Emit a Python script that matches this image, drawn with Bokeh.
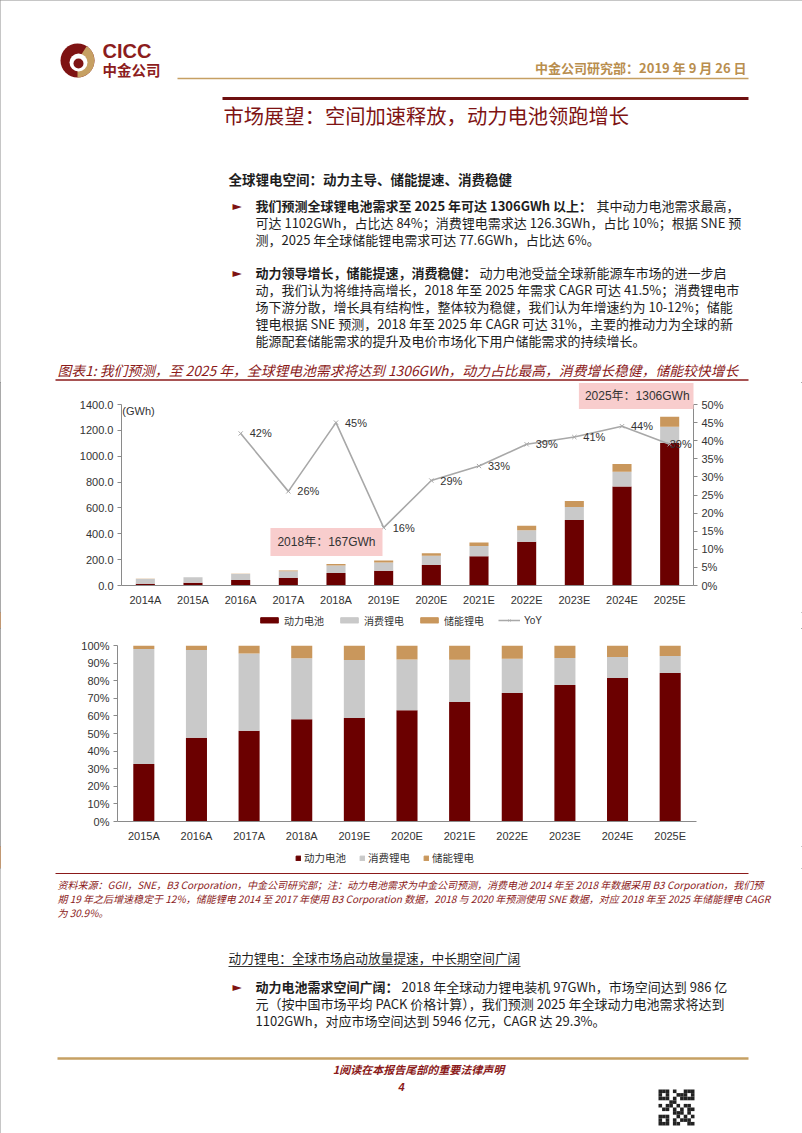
from bokeh.plotting import figure
from bokeh.models import (Range1d, FactorRange, LinearAxis, Legend, LegendItem, Label,
                          SingleIntervalTicker, NumeralTickFormatter, PrintfTickFormatter,
                          ColumnDataSource)
from bokeh.layouts import column
from bokeh.core.properties import value
from bokeh.embed import file_html
from bokeh.resources import INLINE

# ---------------- data ----------------
years = ["2014A", "2015A", "2016A", "2017A", "2018A", "2019E", "2020E",
         "2021E", "2022E", "2023E", "2024E", "2025E"]
power = [13, 21, 43.5, 59.4, 97, 114, 158, 226, 338, 506, 766, 1102]          # 动力电池 GWh
consumer = [38, 42.1, 45.7, 50.7, 58, 64, 72, 80, 90, 101, 113, 126.3]          # 消费锂电 GWh
storage = [0.8, 1.3, 2.3, 5.2, 12, 16, 20, 27, 35, 46, 61, 77.6]                # 储能锂电 GWh
yoy_years = ["2016A", "2017A", "2018A", "2019E", "2020E", "2021E", "2022E",
             "2023E", "2024E", "2025E"]
yoy = [42, 26, 45, 16, 29, 33, 39, 41, 44, 39]                                   # YoY %
share_years = years[1:]
series_names = ["动力电池", "消费锂电", "储能锂电"]

# ---------------- styles ----------------
CJK = "Noto Sans CJK SC"
LAT = "Liberation Sans"
MIX = "Liberation Sans, Noto Sans CJK SC"
C_POWER = "#6B0000"
C_CONS = "#C9C9C9"
C_STOR = "#C9975C"
C_YOY = "#A8A8A8"
DARKRED = "#7E1313"
GOLD = "#C6A063"
TXT = "#1E1E1E"
W = 802
BODY = 13


def page_fig(h, y0, y1):
    p = figure(width=W, height=h, x_range=Range1d(0, W), y_range=Range1d(y1, y0),
               output_backend="svg", toolbar_location=None, min_border=0,
               x_axis_location=None, y_axis_location=None, frame_align=False)
    p.grid.visible = False
    p.outline_line_color = None
    return p


def txt(p, x, y, s, size=BODY, color=TXT, font=CJK, style="normal", align="left",
        baseline="middle"):
    p.text(x=[x], y=[y], text=[s], text_font=value(font), text_font_size=f"{size}px",
           text_color=color, text_font_style=style, text_align=align,
           text_baseline=baseline)


def hline(p, x0, x1, y, color, width):
    p.line(x=[x0, x1], y=[y, y], line_color=color, line_width=width)


def style_axis(ax):
    ax.axis_line_color = "#8A8A8A"
    ax.major_tick_line_color = "#8A8A8A"
    ax.minor_tick_line_color = None
    ax.major_tick_out = 4
    ax.major_tick_in = 0
    ax.major_label_text_font = LAT
    ax.major_label_text_font_size = "11px"
    ax.major_label_text_color = "#333333"
    ax.major_label_standoff = 4


def style_xaxis(ax):
    style_axis(ax)
    ax.major_tick_line_color = None
    ax.major_tick_out = 0
    ax.major_label_standoff = 8


# ---------------- header (page y 0..382) ----------------
hd = page_fig(382, 0, 382)
hd.circle(x=[77], y=[60], radius=17, fill_color=DARKRED, line_color=None)
hd.wedge(x=[77], y=[60], radius=17, start_angle=-1.57, end_angle=1.0,
         fill_color=GOLD, line_color=None)
hd.circle(x=[78], y=[62], radius=9, fill_color="white", line_color=None)
hd.circle(x=[78], y=[63], radius=5, fill_color=DARKRED, line_color=None)
txt(hd, 102, 50, "CICC", size=20, color="#8C1D1D", font=LAT, style="bold")
txt(hd, 102, 69, "中金公司", size=14.5, color="#8C1D1D", style="bold")
txt(hd, 746, 67, "中金公司研究部：2019 年 9 月 26 日", size=13, color="#B98E4E",
    style="bold", align="right")
hline(hd, 177, 748, 78, GOLD, 1.5)
hline(hd, 222, 748, 98, "#6E1010", 3)
txt(hd, 223, 114, "市场展望：空间加速释放，动力电池领跑增长", size=20.3, color=DARKRED)

txt(hd, 228, 178, "全球锂电空间：动力主导、储能提速、消费稳健", size=13.5, style="bold")

txt(hd, 232, 205, "►", size=12, color=DARKRED, font="DejaVu Sans")
txt(hd, 255, 205, "我们预测全球锂电池需求至 2025 年可达 1306GWh 以上：", style="bold")
txt(hd, 596, 205, "其中动力电池需求最高，")
txt(hd, 255, 222, "可达 1102GWh，占比达 84%；消费锂电需求达 126.3GWh，占比 10%；根据 SNE 预")
txt(hd, 255, 239, "测，2025 年全球储能锂电需求可达 77.6GWh，占比达 6%。")

txt(hd, 232, 272, "►", size=12, color=DARKRED, font="DejaVu Sans")
txt(hd, 255, 272, "动力领导增长，储能提速，消费稳健：", style="bold")
txt(hd, 479, 272, "动力电池受益全球新能源车市场的进一步启")
txt(hd, 255, 289, "动，我们认为将维持高增长，2018 年至 2025 年需求 CAGR 可达 41.5%；消费锂电市")
txt(hd, 255, 306, "场下游分散，增长具有结构性，整体较为稳健，我们认为年增速约为 10-12%；储能")
txt(hd, 255, 323, "锂电根据 SNE 预测，2018 年至 2025 年 CAGR 可达 31%，主要的推动力为全球的新")
txt(hd, 255, 340, "能源配套储能需求的提升及电价市场化下用户储能需求的持续增长。")

txt(hd, 57, 369, "图表1: 我们预测，至 2025 年，全球锂电池需求将达到 1306GWh，动力占比最高，消费增长稳健，储能较快增长",
    size=13.8, color="#8B1A1A", style="italic")
hline(hd, 55, 748, 379.5, "#8B1A1A", 1.5)

# ---------------- chart 1 (page y 382..612) ----------------
# frame spans page y 382..585; axes drawn only over 0..1400 (page y 404..585)
Y_MAX, YOY_MAX = 1400, 50
ext = (585 - 382) / (585 - 404)
c1 = figure(width=W, height=230, x_range=FactorRange(*years),
            y_range=Range1d(0, Y_MAX * ext),
            output_backend="svg", toolbar_location=None, frame_align=False,
            min_border_left=121, min_border_right=109, min_border_top=0, min_border_bottom=27)
c1.grid.visible = False
c1.outline_line_color = None
c1.extra_y_ranges = {"yoy": Range1d(0, YOY_MAX * ext)}

src1 = ColumnDataSource(dict(year=years, power=power, consumer=consumer, storage=storage))
bars1 = c1.vbar_stack(["power", "consumer", "storage"], x="year", width=0.4, source=src1,
                      color=[C_POWER, C_CONS, C_STOR], line_color=None)
ln = c1.line(x=yoy_years, y=yoy, y_range_name="yoy", line_color=C_YOY, line_width=1.6)
mk = c1.scatter(x=yoy_years, y=yoy, y_range_name="yoy", marker="x", size=6,
                line_color=C_YOY, line_width=1)
yoy_txt = [f"{v}%" for v in yoy]
c1.text(x=yoy_years[:-1], y=yoy[:-1], text=yoy_txt[:-1], y_range_name="yoy", x_offset=9,
        text_font=value(LAT), text_font_size="11px", text_color="#333333",
        text_baseline="middle")
c1.text(x=yoy_years[-1:], y=yoy[-1:], text=yoy_txt[-1:], y_range_name="yoy", x_offset=0,
        text_font=value(LAT), text_font_size="11px", text_color="#333333",
        text_baseline="middle")
c1.text(x=[years[0]], y=[Y_MAX], text=["(GWh)"], x_offset=-23, text_font=value(LAT),
        text_font_size="11px", text_color="#333333", text_baseline="top")

c1.add_layout(Label(x=4.30, y=336, text="2018年：167GWh", text_align="center",
                    text_baseline="middle", text_font=MIX, text_font_size="12px",
                    text_color="#333333", background_fill_color="#F8CDCD", padding=7))
c1.add_layout(Label(x=10.82, y=1466, text="2025年：1306GWh", text_align="center",
                    text_baseline="middle", text_font=MIX, text_font_size="12px",
                    text_color="#333333", background_fill_color="#F8CDCD", padding=6))

c1.yaxis.ticker = SingleIntervalTicker(interval=200)
c1.yaxis.formatter = NumeralTickFormatter(format="0.0")
c1.yaxis.bounds = (0, Y_MAX)
rax = LinearAxis(y_range_name="yoy", ticker=SingleIntervalTicker(interval=5),
                 formatter=PrintfTickFormatter(format="%d%%"), bounds=(0, YOY_MAX))
c1.add_layout(rax, "right")
for ax in [c1.yaxis[0], rax]:
    style_axis(ax)
style_xaxis(c1.xaxis[0])

# legend strip for chart 1 (page y 612..628); swatches come from off-screen samples
OFF = [-100]
lg1 = page_fig(16, 0, 1)
d_pow = lg1.vbar(x=OFF, top=[1], width=1, color=C_POWER)
d_con = lg1.vbar(x=OFF, top=[1], width=1, color=C_CONS)
d_sto = lg1.vbar(x=OFF, top=[1], width=1, color=C_STOR)
d_ln = lg1.line(x=OFF * 2, y=[0.5, 0.5], line_color=C_YOY, line_width=1.6)
d_mk = lg1.scatter(x=OFF, y=[0.5], marker="x", size=6, line_color=C_YOY)
lg1.add_layout(Legend(items=[LegendItem(label=series_names[0], renderers=[d_pow]),
                             LegendItem(label=series_names[1], renderers=[d_con]),
                             LegendItem(label=series_names[2], renderers=[d_sto]),
                             LegendItem(label="YoY", renderers=[d_ln, d_mk])],
                      orientation="horizontal", location="center", glyph_width=22,
                      glyph_height=7, label_height=12, label_standoff=4, spacing=14,
                      padding=2, margin=0, label_text_font=MIX,
                      label_text_font_size="10px", label_text_color="#333333",
                      border_line_color=None, background_fill_alpha=0))

# ---------------- chart 2 (page y 628..846) ----------------
tot = [p_ + c_ + s_ for p_, c_, s_ in zip(power, consumer, storage)]
sh_power = [100 * a / t for a, t in zip(power[1:], tot[1:])]
sh_cons = [100 * a / t for a, t in zip(consumer[1:], tot[1:])]
sh_stor = [100 * a / t for a, t in zip(storage[1:], tot[1:])]

c2 = figure(width=W, height=218, x_range=FactorRange(*share_years), y_range=Range1d(0, 100),
            output_backend="svg", toolbar_location=None, frame_align=False,
            min_border_left=117, min_border_right=106, min_border_top=17, min_border_bottom=25)
c2.grid.visible = False
c2.outline_line_color = None
src2 = ColumnDataSource(dict(year=share_years, power=sh_power, consumer=sh_cons, storage=sh_stor))
bars2 = c2.vbar_stack(["power", "consumer", "storage"], x="year", width=0.4, source=src2,
                      color=[C_POWER, C_CONS, C_STOR], line_color=None)
c2.yaxis.ticker = SingleIntervalTicker(interval=10)
c2.yaxis.formatter = PrintfTickFormatter(format="%d%%")
style_axis(c2.yaxis[0])
style_xaxis(c2.xaxis[0])

# legend strip for chart 2 (page y 846..868)
lg2 = page_fig(22, 0, 1)
e_pow = lg2.vbar(x=OFF, top=[1], width=1, color=C_POWER)
e_con = lg2.vbar(x=OFF, top=[1], width=1, color=C_CONS)
e_sto = lg2.vbar(x=OFF, top=[1], width=1, color=C_STOR)
lg2.add_layout(Legend(items=[LegendItem(label=n, renderers=[r])
                             for n, r in zip(series_names, [e_pow, e_con, e_sto])],
                      orientation="horizontal", location=(295, 3), glyph_width=6,
                      glyph_height=6, label_height=12, label_standoff=3, spacing=13,
                      padding=2, margin=0, label_text_font=CJK,
                      label_text_font_size="10.5px", label_text_color="#333333",
                      border_line_color=None, background_fill_alpha=0))

# ---------------- footer (page y 868..1133) ----------------
ft = page_fig(265, 868, 1133)
hline(ft, 55, 748, 873, "#8B1A1A", 1)
src_lines = [
    "资料来源：GGII，SNE，B3 Corporation，中金公司研究部；注：动力电池需求为中金公司预测，消费电池 2014 年至 2018 年数据采用 B3 Corporation，我们预",
    "期 19 年之后增速稳定于 12%，储能锂电 2014 至 2017 年使用 B3 Corporation 数据，2018 与 2020 年预测使用 SNE 数据，对应 2018 年至 2025 年储能锂电 CAGR",
    "为 30.9%。",
]
for i, s in enumerate(src_lines):
    txt(ft, 57, 884 + 14 * i, s, size=10, color="#8B1A1A", style="italic")

txt(ft, 228, 957, "动力锂电：全球市场启动放量提速，中长期空间广阔", size=12.7)
hline(ft, 228, 520, 966, "#333333", 1)
txt(ft, 232, 986, "►", size=12, color=DARKRED, font="DejaVu Sans")
txt(ft, 255, 986, "动力电池需求空间广阔：", style="bold")
txt(ft, 401, 986, "2018 年全球动力锂电装机 97GWh，市场空间达到 986 亿")
txt(ft, 255, 1003, "元（按中国市场平均 PACK 价格计算），我们预测 2025 年全球动力电池需求将达到")
txt(ft, 255, 1020, "1102GWh，对应市场空间达到 5946 亿元，CAGR 达 29.3%。")

hline(ft, 57, 748, 1058, GOLD, 2.5)
txt(ft, 418, 1068, "1阅读在本报告尾部的重要法律声明", size=11, color="#8B1A1A",
    style="bold italic", align="center")
txt(ft, 401, 1086, "4", size=11, color="#8B1A1A", font=LAT, style="bold italic",
    align="center")

qr = ["1110100111", "1010011101", "1110101111", "0001100000", "1011010110",
      "0110101011", "0000111010", "1110010101", "1010101110", "1110110011"]
qx, qy = [], []
for r, row in enumerate(qr):
    for c, b in enumerate(row):
        if b == "1":
            qx.append(658 + 3.6 * c + 1.8)
            qy.append(1089 + 3.6 * r + 1.8)
ft.rect(x=qx, y=qy, width=3.6, height=3.6, fill_color="#222222", line_color=None)

page = column(hd, c1, lg1, c2, lg2, ft, spacing=0,
              styles={"outline": "1px solid #8C8C8C", "outline-offset": "-1px"})
open("out.html", "w").write(file_html(page, INLINE))
